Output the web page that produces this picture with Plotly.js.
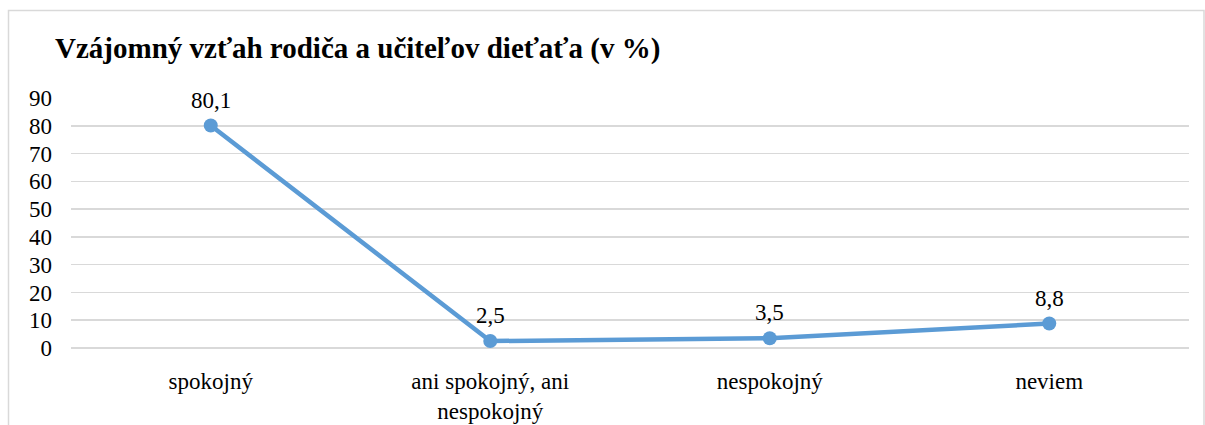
<!DOCTYPE html>
<html>
<head>
<meta charset="utf-8">
<script src="https://cdn.plot.ly/plotly-3.0.1.min.js"></script>
<style>
  html, body { margin: 0; padding: 0; background: #fff; }
  #chart { width: 1205px; height: 425px; }
</style>
</head>
<body>
<div id="chart"></div>
<script>
const categories = ["spokojný", "ani spokojný, ani<br>nespokojný", "nespokojný", "neviem"];
const values = [80.1, 2.5, 3.5, 8.8];
const valueLabels = ["80,1", "2,5", "3,5", "8,8"];
const yTicks = [0, 10, 20, 30, 40, 50, 60, 70, 80, 90];

const serif = "Liberation Serif, Times New Roman, serif";

const trace = {
  x: categories,
  y: values,
  type: "scatter",
  mode: "lines+markers",
  line: { color: "#5B9BD5", width: 4.5 },
  marker: { color: "#5B9BD5", size: 14 },
  hoverinfo: "skip",
  cliponaxis: false
};

const annotations = categories.map((c, i) => ({
  x: c, y: values[i], xref: "x", yref: "y",
  text: valueLabels[i], showarrow: false,
  yanchor: "bottom", yshift: 11,
  font: { family: serif, size: 23, color: "#000" }
}));

const layout = {
  width: 1205, height: 425,
  margin: { l: 71, r: 16, t: 98, b: 77, pad: 0 },
  paper_bgcolor: "#fff",
  plot_bgcolor: "#fff",
  showlegend: false,
  font: { family: serif },
  title: {
    text: "<b>Vzájomný vzťah rodiča a učiteľov dieťaťa (v %)</b>",
    font: { family: serif, size: 29, color: "#000" },
    x: 55 / 1205, xanchor: "left", xref: "container",
    y: 1 - 48 / 425, yanchor: "middle", yref: "container"
  },
  xaxis: {
    type: "category",
    range: [-0.5, 3.5],
    showgrid: false, zeroline: false, showline: false,
    ticks: "", ticklabelstandoff: 17,
    tickfont: { family: serif, size: 23, color: "#000" },
    fixedrange: true
  },
  yaxis: {
    range: [0, 90],
    tickvals: yTicks,
    ticktext: yTicks.map(String),
    showgrid: true, gridcolor: "#d9d9d9", gridwidth: 1.5,
    zeroline: true, zerolinecolor: "#d9d9d9", zerolinewidth: 1.5,
    showline: false, ticks: "", ticklabelstandoff: 18,
    tickfont: { family: serif, size: 23, color: "#000" },
    fixedrange: true
  },
  shapes: [{
    type: "rect", xref: "paper", yref: "paper",
    x0: (8.5 - 71) / 1118, x1: (1204 - 71) / 1118,
    y0: (348 - 430) / 250, y1: (348 - 10.5) / 250,
    line: { color: "#d9d9d9", width: 1.5 }, fillcolor: "rgba(0,0,0,0)",
    layer: "below"
  }],
  annotations: annotations
};

Plotly.newPlot("chart", [trace], layout, { displayModeBar: false, staticPlot: true });
</script>
</body>
</html>
